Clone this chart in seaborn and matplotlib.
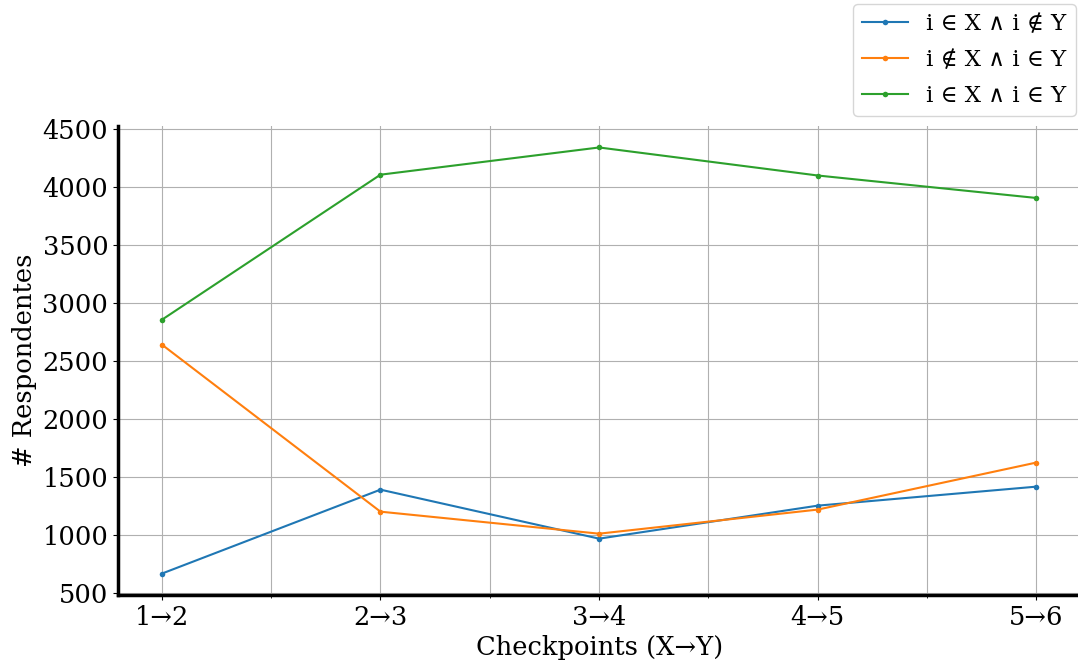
import matplotlib
matplotlib.use("Agg")
import matplotlib.pyplot as plt
import seaborn as sns
import pandas as pd
from matplotlib.ticker import MultipleLocator

checkpoints = ["1→2", "2→3", "3→4", "4→5", "5→6"]
only_x = [664, 1389, 966, 1251, 1415]
only_y = [2642, 1199, 1009, 1217, 1623]
both = [2855, 4108, 4343, 4101, 3907]

series_names = ["i ∈ X ∧ i ∉ Y", "i ∉ X ∧ i ∈ Y", "i ∈ X ∧ i ∈ Y"]
series_values = [only_x, only_y, both]

rows = []
for name, vals in zip(series_names, series_values):
    for i, v in enumerate(vals):
        rows.append({"pos": i, "count": v, "group": name})
df = pd.DataFrame(rows)

plt.rcParams["font.family"] = ["DejaVu Serif"]
plt.rcParams["font.size"] = 18

fig = plt.figure(figsize=(10.78, 6.64), dpi=100)
ax = fig.add_axes([0.1095, 0.104, 0.8925, 0.706])

palette = ["#1f77b4", "#ff7f0e", "#2ca02c"]
sns.lineplot(data=df, x="pos", y="count", hue="group", hue_order=series_names,
             palette=palette, marker="o", markersize=4, markeredgewidth=0,
             linewidth=1.5, ax=ax, legend=True)

ax.set_xticks(range(len(checkpoints)))
ax.set_xticklabels(checkpoints)
ax.xaxis.set_minor_locator(MultipleLocator(0.5))
ax.grid(True, which="major", color="#b0b0b0", linewidth=0.8)
ax.grid(True, which="minor", axis="x", color="#b0b0b0", linewidth=0.8)
ax.set_axisbelow(True)

ax.margins(x=0.05, y=0.05)
ax.set_xlabel("Checkpoints (X→Y)", fontsize=18.5)
ax.set_ylabel("# Respondentes", fontsize=18.5)

for side in ["top", "right"]:
    ax.spines[side].set_visible(False)
for side in ["left", "bottom"]:
    ax.spines[side].set_linewidth(2.5)
    ax.spines[side].set_color("black")

ax.tick_params(axis="both", which="major", labelsize=18.5)

handles, labels = ax.get_legend_handles_labels()
ax.get_legend().remove()
fig.legend(handles, labels, loc="upper right", bbox_to_anchor=(0.998, 0.994),
           borderaxespad=0, fontsize=16.5, labelspacing=0.6, frameon=True)

fig.savefig("out.png", dpi=100)
